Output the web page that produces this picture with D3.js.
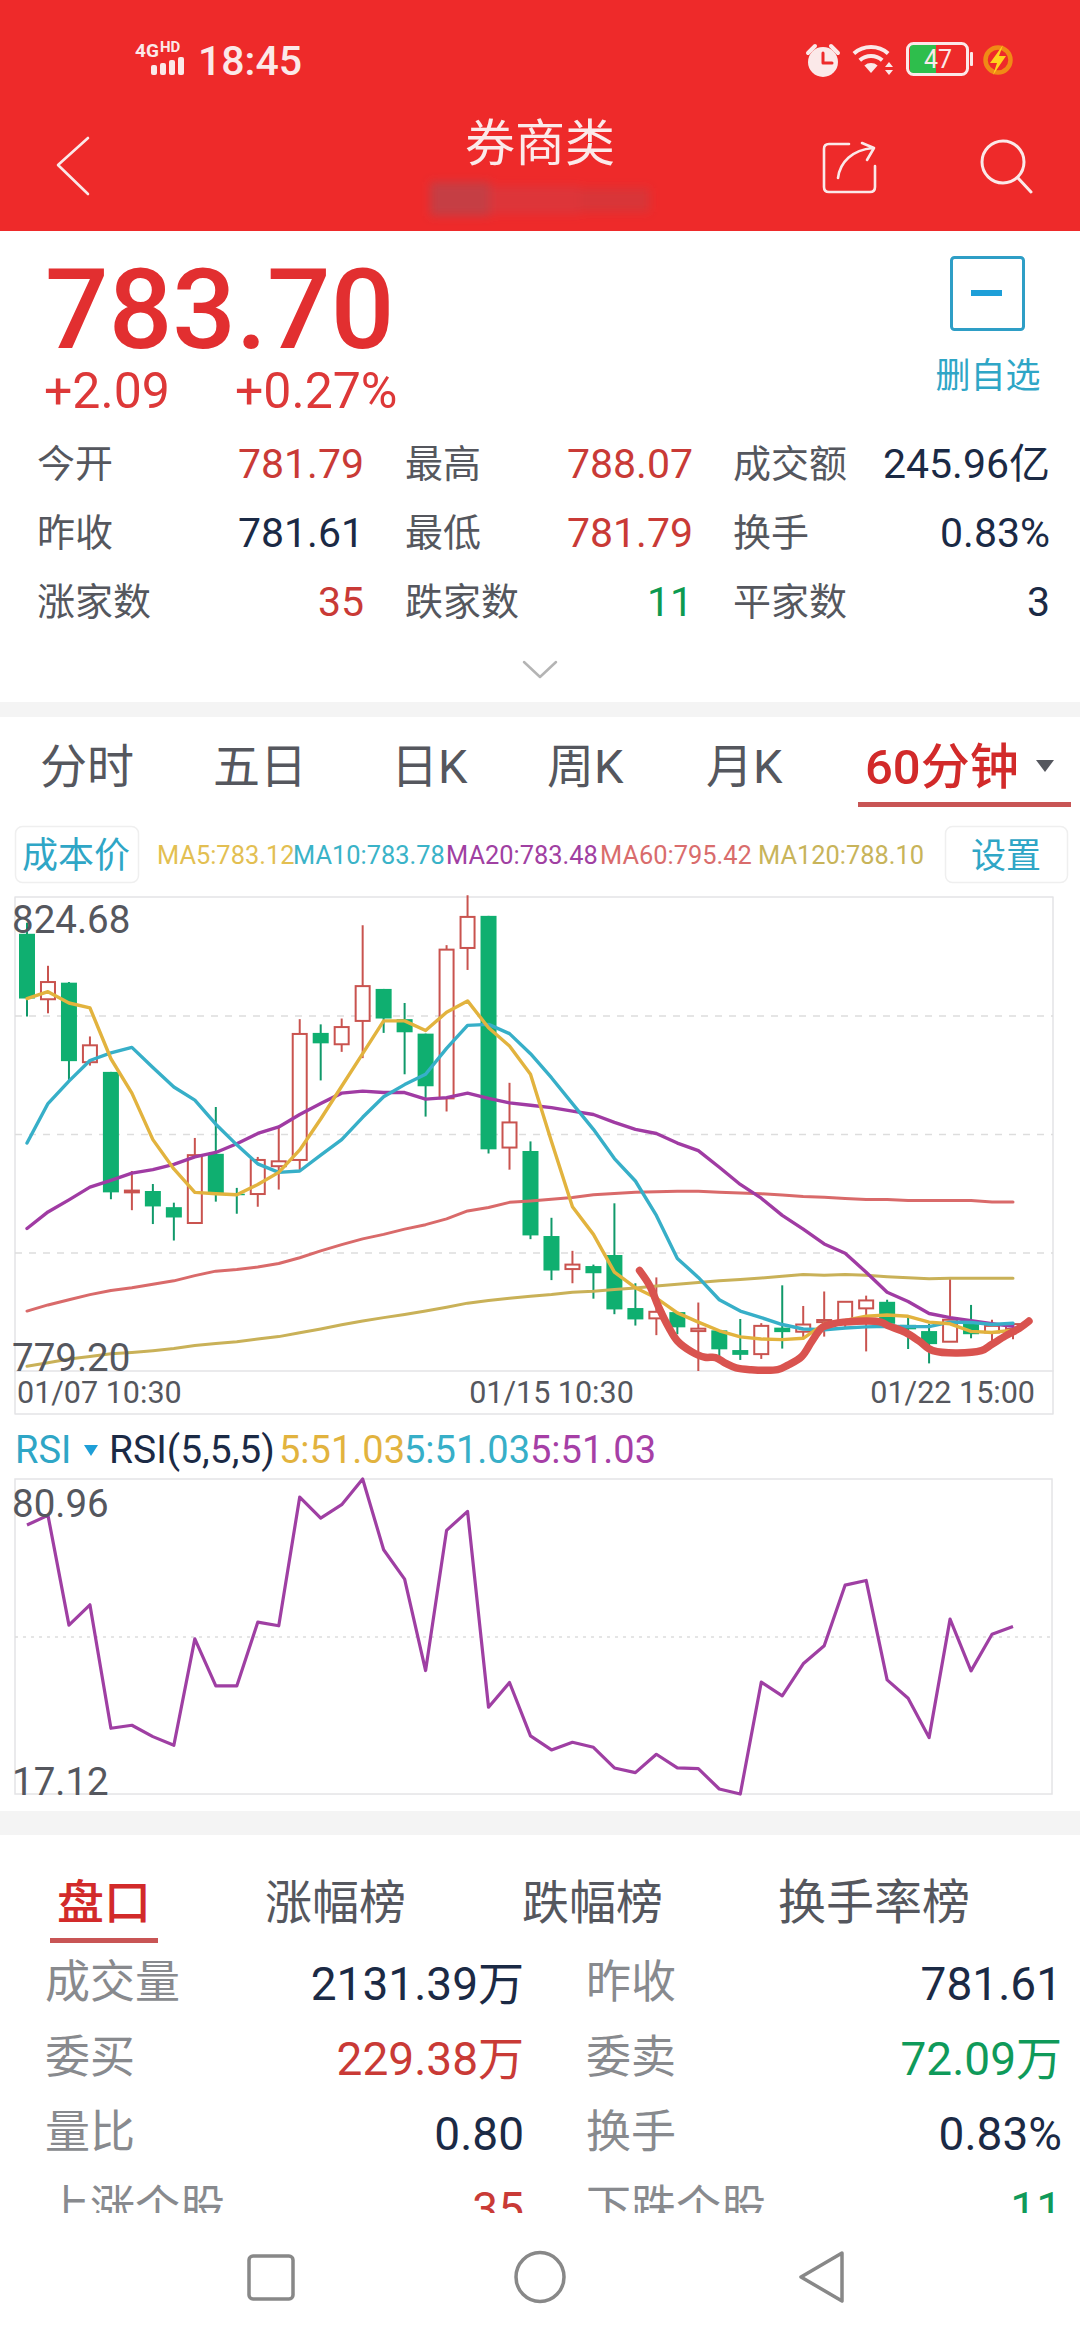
<!DOCTYPE html>
<html><head><meta charset="utf-8">
<script src="https://d3js.org/d3.v7.min.js"></script>
<style>html,body{margin:0;padding:0;background:#fff}svg{display:block}</style>
</head><body><div id="c"></div>
<script>
const priceMin = 779.20, priceMax = 824.68;
const rsiMin = 17.12, rsiMax = 80.96;
const priceGrid = [790.57, 801.94, 813.31];
const rsiGrid = [49.04];
const dateTicks = ["01/07 10:30", "01/15 10:30", "01/22 15:00"];

const opens = [821.15,814.87,816.46,808.83,807.90,796.34,796.47,794.92,793.40,800.04,796.21,796.18,798.85,799.45,811.64,810.55,812.79,815.86,812.96,811.57,805.36,819.79,822.87,800.64,800.31,792.15,788.98,789.27,790.33,785.24,784.25,784.85,783.03,783.10,781.21,780.82,783.36,782.97,783.89,784.06,785.21,785.84,783.63,783.03,782.01,783.89,782.90,783.23];
const closes = [814.94,816.52,808.93,810.45,796.34,796.51,794.99,793.93,799.91,796.21,796.08,799.45,799.32,811.54,810.64,812.20,816.13,813.02,811.70,806.52,819.63,822.77,800.47,803.05,792.21,788.84,789.41,788.58,785.11,784.15,784.88,783.39,783.26,781.28,780.75,783.53,782.93,783.66,784.09,785.84,785.97,783.73,783.20,781.78,784.12,782.73,783.53,783.70];
const highs = [822.20,818.08,816.52,811.30,807.90,798.39,797.14,795.35,801.56,804.53,796.77,799.74,802.55,812.96,812.46,813.02,821.97,815.86,814.51,811.57,820.06,824.85,822.87,806.85,801.23,793.90,790.73,789.41,795.29,787.62,788.18,784.85,785.77,783.10,784.19,783.79,787.42,785.44,786.83,785.84,786.43,786.04,784.39,783.73,788.18,785.54,784.12,783.89];
const lows = [813.22,813.52,807.01,808.50,795.68,794.63,793.30,791.72,793.40,795.45,794.29,794.96,796.61,798.42,807.08,809.82,809.22,811.64,807.67,803.61,804.10,817.68,800.07,798.52,791.85,787.92,787.62,786.14,784.65,783.56,782.64,782.73,779.20,780.59,780.26,780.36,781.35,782.24,782.50,783.39,781.08,783.56,781.31,779.93,782.01,782.34,782.07,782.24];

const ma5 = [814.94,815.60,814.51,814.05,809.16,805.86,801.40,798.59,796.34,796.21,796.11,797.10,798.26,800.41,803.38,806.52,809.65,812.79,812.79,811.87,813.62,814.71,812.13,810.38,807.67,801.23,794.96,792.31,788.68,787.19,786.20,784.78,783.89,783.06,782.47,782.27,782.21,782.34,783.73,784.06,784.45,784.58,784.45,783.89,783.73,783.00,782.90,783.12];
const ma10 = [801.07,804.86,807.01,808.99,809.72,810.25,808.33,806.45,805.19,802.88,800.90,799.08,798.26,798.39,799.91,801.40,803.54,805.52,806.68,807.67,810.15,812.36,812.46,811.57,809.65,807.34,804.86,802.39,799.58,797.43,794.13,790.00,788.18,786.04,784.95,784.32,783.66,783.23,783.16,783.33,783.43,783.49,783.46,783.46,783.89,783.86,783.66,783.78];
const ma20 = [792.87,794.46,795.62,796.84,797.50,798.19,798.52,799.02,799.74,800.17,801.00,801.99,802.62,803.81,804.86,805.86,806.05,805.92,805.92,805.29,805.43,805.86,805.36,804.93,804.70,804.47,804.14,803.81,803.05,802.39,801.99,801.07,800.34,798.75,797.10,795.78,794.13,792.81,791.39,790.50,788.68,786.76,785.87,784.72,784.32,784.02,783.73,783.48];
const ma60 = [784.95,785.54,786.04,786.53,786.93,787.19,787.52,787.85,788.35,788.78,788.94,789.18,789.51,790.07,790.73,791.32,791.88,792.31,792.81,793.24,793.80,794.56,794.89,795.38,795.52,795.68,795.85,796.11,796.24,796.34,796.41,796.44,796.44,796.34,796.28,796.21,796.08,795.95,795.88,795.75,795.65,795.65,795.55,795.55,795.55,795.55,795.42,795.42];
const ma120 = [779.66,779.99,780.36,780.59,780.85,780.98,781.15,781.35,781.64,781.84,782.01,782.27,782.50,782.87,783.23,783.63,783.99,784.32,784.62,784.95,785.31,785.71,785.97,786.17,786.37,786.53,786.76,786.86,787.03,787.16,787.36,787.52,787.69,787.85,787.99,788.12,788.28,788.45,788.38,788.45,788.38,788.25,788.15,788.05,788.10,788.10,788.10,788.10];
const rsiValues = [71.63,73.59,51.34,55.47,30.44,31.05,28.75,26.99,48.57,39.03,39.03,51.95,51.21,77.31,73.05,75.76,80.96,66.63,60.67,42.14,70.55,74.40,34.70,39.71,28.89,26.05,27.60,26.59,22.40,21.45,25.17,22.40,22.26,18.13,17.12,39.78,37.00,43.50,47.15,59.46,60.40,40.25,36.53,28.55,52.56,42.08,49.51,51.07];

const markIndex = [29.2,29.69,30.10,30.59,31.01,31.66,32.32,32.82,33.31,33.80,34.46,35.78,36.27,36.93,37.42,37.92,38.41,38.91,40.71,41.04,41.87,42.53,43.18,45.49,45.98,46.64,47.30,47.76];
const markPrice = [788.84,787.36,785.38,783.39,782.07,781.08,780.52,780.49,779.93,779.50,779.33,779.33,779.76,780.59,782.07,783.39,783.73,783.89,783.89,783.56,782.90,782.07,781.15,781.15,781.74,782.57,783.30,783.99];

const maLabels = ["MA5:783.12","MA10:783.78","MA20:783.48","MA60:795.42","MA120:788.10"];
const periodTabs = ["分时","五日","日K","周K","月K"];
const infoLabels = [["今开","最高","成交额"],["昨收","最低","换手"],["涨家数","跌家数","平家数"]];
const infoValues = [["781.79","788.07","245.96亿"],["781.61","781.79","0.83%"],["35","11","3"]];
const listTabs = ["涨幅榜","跌幅榜","换手率榜"];
const tableLabels = [["成交量","昨收"],["委买","委卖"],["量比","换手"],["上涨个股","下跌个股"]];
const tableValues = [["2131.39万","781.61"],["229.38万","72.09万"],["0.80","0.83%"],["35","11"]];

const RED="#E52E2E", UP="#C9534F", DOWN="#0FAF70", DOWNW="#10996A", DARK="#1B2A45", GREY="#55575E", LG="#888A8E", BLUE="#2FA6C6";
const cMA=["#E2B33E","#37AFC8","#A03BA3","#D96A6A","#C9B158"];
const FONT='Roboto,"Noto Sans CJK SC",sans-serif';

const svg=d3.select("#c").append("svg").attr("width",1080).attr("height",2340).attr("viewBox","0 0 1080 2340").style("font-family",FONT);
const defs=svg.append("defs");
defs.append("filter").attr("id","bl").attr("x","-20%").attr("y","-50%").attr("width","140%").attr("height","200%").append("feGaussianBlur").attr("stdDeviation",5);
defs.append("clipPath").attr("id","rowClip").append("rect").attr("x",0).attr("y",2100).attr("width",1080).attr("height",113);

function T(p,x,y,s,o={}){return p.append("text").attr("x",x).attr("y",y).text(s).attr("font-size",o.size||36).attr("fill",o.fill||GREY).attr("text-anchor",o.anchor||"start").attr("font-weight",o.weight||400);}
function R(p,x,y,w,h,f,o={}){return p.append("rect").attr("x",x).attr("y",y).attr("width",w).attr("height",h).attr("fill",f).attr("rx",o.rx||0).attr("stroke",o.stroke||"none").attr("stroke-width",o.sw||0);}
function P(p,d,s,w,f){return p.append("path").attr("d",d).attr("fill",f||"none").attr("stroke",s||"none").attr("stroke-width",w||0).attr("stroke-linecap","round").attr("stroke-linejoin","round");}

/* header */
R(svg,0,0,1080,231,"#EE2A2A");
const hw="#FBE9E9";
T(svg,135,57,"4G",{size:19,fill:hw,weight:700});
T(svg,160,52,"HD",{size:15,fill:hw,weight:700});
[[151,10],[160,12],[169,15],[178,18]].forEach(b=>R(svg,b[0],75-b[1],6,b[1],hw,{rx:2}));
T(svg,198,75,"18:45",{size:41,fill:hw,weight:500});
// alarm
svg.append("circle").attr("cx",823).attr("cy",62).attr("r",15).attr("fill",hw);
P(svg,"M823 53V63H832","#EE2A2A",3);
P(svg,"M808 53L815 46M838 53L831 46",hw,4);
// wifi
const wifiArc=d3.arc().startAngle(-0.72).endAngle(0.72);
[[24,28],[15,19],[0,10]].forEach(r=>svg.append("path").attr("transform","translate(871,73)").attr("fill",hw).attr("d",wifiArc({innerRadius:r[0],outerRadius:r[1]})));
P(svg,"M889 62L893 67H885ZM889 75L893 70H885Z",null,0,hw);
// battery
R(svg,910,45,26,28,"#2EBE4C");
R(svg,907.5,43.5,60,31,"none",{rx:6,stroke:hw,sw:3});
R(svg,970,52,3,14,hw,{rx:1});
T(svg,938,68,"47",{size:25,fill:hw,anchor:"middle"});
// bolt
svg.append("circle").attr("cx",998).attr("cy",60).attr("r",12.5).attr("fill","none").attr("stroke","#F08A16").attr("stroke-width",4.5);
P(svg,"M1003 45L990 63H997L993 75L1006 56H999Z",null,0,"#FFD21E");

T(svg,540,161,"券商类",{size:50,fill:"#FBEAEA",anchor:"middle"});
const blur=svg.append("g").attr("filter","url(#bl)");
R(blur,430,182,60,34,"rgba(120,100,120,.34)");
R(blur,490,186,90,28,"rgba(160,95,110,.22)");
R(blur,580,188,70,24,"rgba(130,100,110,.20)");
P(svg,"M88 138L58 165L88 194",hw,2.6);
P(svg,"M849 144H829Q824 144 824 149V187Q824 192 829 192H870Q875 192 875 187V166",hw,2.6);
P(svg,"M838 178C840 162 852 150 873 148M862 143L874 148L867 160",hw,2.6);
svg.append("circle").attr("cx",1003).attr("cy",162).attr("r",21).attr("fill","none").attr("stroke",hw).attr("stroke-width",3);
P(svg,"M1018 178L1031 192",hw,3);

/* quote */
T(svg,45,348,"783.70",{size:112,fill:"#E22F30",weight:500});
T(svg,44,408,"+2.09",{size:50,fill:"#DD3838"});
T(svg,235,408,"+0.27%",{size:50,fill:"#DD3838"});
R(svg,951.5,257.5,72,72,"#fff",{rx:3,stroke:"#2E9EC6",sw:3});
R(svg,971,290,31,6,"#1E9FD8");
T(svg,988,388,"删自选",{size:35,fill:BLUE,anchor:"middle"});

const rowBase=[478,547,616];
const labX=[37,405,733], valX=[364,693,1050];
const valFill=[["#C93A36","#C93A36",DARK],[DARK,"#C93A36",DARK],["#C93A36","#0C9A50",DARK]];
infoLabels.forEach((row,i)=>row.forEach((s,j)=>{
  T(svg,labX[j],rowBase[i]-1,s,{size:38,fill:GREY});
  T(svg,valX[j],rowBase[i],infoValues[i][j],{size:41,fill:valFill[i][j],anchor:"end"});
}));
P(svg,"M524 662L540 677L556 662","#B4B4B4",2.5);
R(svg,0,702,1080,15,"#F4F4F4");

/* period tabs */
const tabX=[40,213,391,547,706];
periodTabs.forEach((s,i)=>T(svg,tabX[i],783,s,{size:47,fill:GREY}));
T(svg,865,784,"60分钟",{size:49,fill:"#D22A2A",weight:500});
P(svg,"M1036 760H1054L1045 772Z",null,0,GREY);
R(svg,858,802,213,5,"#C85555");

/* MA legend row */
R(svg,15.5,826.5,123,56,"#fff",{rx:7,stroke:"#EFEFEF",sw:1.5});
T(svg,22,868,"成本价",{size:36,fill:BLUE});
R(svg,945.5,826.5,122,56,"#fff",{rx:7,stroke:"#EFEFEF",sw:1.5});
T(svg,971,868,"设置",{size:35,fill:BLUE});
const maX=[157,293,446,600,758];
const legendCol=["#E3BF52","#3AB3C8","#A040A2","#D96C6C","#C8B45A"];
maLabels.forEach((s,i)=>T(svg,maX[i],864,s,{size:25.4,fill:legendCol[i]}));

/* candle chart */
const L=15,Rt=1053,Top=897,Bot=1371;
const x=d3.scaleLinear().domain([0,47]).range([27,1013]);
const y=d3.scaleLinear().domain([priceMin,priceMax]).range([Bot,Top]);
const frame="#E4E4E6";
P(svg,`M${L} ${Bot}V${Top}H${Rt}V${Bot}`,frame,1.5);
P(svg,`M${L} ${Bot}V1414H${Rt}V${Bot}Z`,frame,1.5);
const gridAxis=d3.axisLeft(y).tickValues(priceGrid).tickSize(-(Rt-L)).tickFormat("");
const gg=svg.append("g").attr("transform",`translate(${L},0)`).call(gridAxis);
gg.select(".domain").remove();
gg.selectAll("line").attr("stroke","#DDDDDD").attr("stroke-width",1.5).attr("stroke-dasharray","7 7");

const idx=d3.range(opens.length);
const bw=15;
const cg=svg.append("g");
cg.selectAll("line.w").data(idx).join("line").attr("class","w")
 .attr("x1",i=>x(i)).attr("x2",i=>x(i)).attr("y1",i=>y(highs[i])).attr("y2",i=>y(lows[i]))
 .attr("stroke",i=>closes[i]>=opens[i]?UP:DOWNW).attr("stroke-width",2);
cg.selectAll("rect.b").data(idx).join("rect").attr("class","b")
 .attr("x",i=>closes[i]>=opens[i]?x(i)-bw/2+.5:x(i)-bw/2-.5)
 .attr("width",i=>closes[i]>=opens[i]?bw-1:bw+1)
 .attr("y",i=>y(Math.max(opens[i],closes[i])))
 .attr("height",i=>Math.max(1.5,Math.abs(y(opens[i])-y(closes[i]))))
 .attr("fill",i=>closes[i]>=opens[i]?"#fff":DOWN)
 .attr("stroke",i=>closes[i]>=opens[i]?UP:"none")
 .attr("stroke-width",2);

const line=d3.line().x((d,i)=>x(i)).y(d=>y(d));
[ma120,ma60,ma20,ma10,ma5].forEach((s,k)=>{
  svg.append("path").attr("d",line(s)).attr("fill","none").attr("stroke",cMA[4-k]).attr("stroke-width",k<2?3:3.4).attr("stroke-linejoin","round").attr("stroke-linecap","round");
});
const markLine=d3.line().x((d,i)=>x(markIndex[i])).y(d=>y(d)).curve(d3.curveCatmullRom);
svg.append("path").attr("d",markLine(markPrice)).attr("fill","none").attr("stroke","#D9534F").attr("stroke-width",7.5).attr("stroke-linecap","round").attr("stroke-linejoin","round");

T(svg,12,933,d3.format(".2f")(priceMax),{size:38.5,fill:GREY});
T(svg,12,1371,d3.format(".2f")(priceMin),{size:38.5,fill:GREY});
T(svg,17,1403,dateTicks[0],{size:30.5,fill:GREY});
T(svg,x(25),1403,dateTicks[1],{size:30.5,fill:GREY,anchor:"middle"});
T(svg,1035,1403,dateTicks[2],{size:30.5,fill:GREY,anchor:"end"});

/* RSI */
T(svg,15,1463,"RSI",{size:38,fill:BLUE});
P(svg,"M84 1445H98L91 1456Z",null,0,"#1E9FD8");
T(svg,109,1463,"RSI(5,5,5)",{size:39,fill:DARK});
const rsiLabelX=[279,404,530];
[cMA[0],cMA[1],"#A63FA6"].forEach((c,i)=>T(svg,rsiLabelX[i],1463,"5:51.03",{size:38,fill:c}));
const rTop=1479,rBot=1794;
R(svg,15,rTop,1037,rBot-rTop,"none",{stroke:frame,sw:1.5});
const ry=d3.scaleLinear().domain([rsiMin,rsiMax]).range([rBot,rTop]);
const rg=svg.append("g").attr("transform","translate(15,0)").call(d3.axisLeft(ry).tickValues(rsiGrid).tickSize(-1037).tickFormat(""));
rg.select(".domain").remove();
rg.selectAll("line").attr("stroke","#DDDDDD").attr("stroke-width",1.5).attr("stroke-dasharray","3 5");
svg.append("path").attr("d",d3.line().x((d,i)=>x(i)).y(d=>ry(d))(rsiValues)).attr("fill","none").attr("stroke","#9F3FA3").attr("stroke-width",3.2).attr("stroke-linejoin","round");
T(svg,12,1517,d3.format(".2f")(rsiMax),{size:38.5,fill:GREY});
T(svg,12,1795,d3.format(".2f")(rsiMin),{size:38.5,fill:GREY});
R(svg,0,1811,1080,24,"#F4F4F4");

/* bottom table */
T(svg,57,1919,"盘口",{size:47,fill:"#D22A2A",weight:500});
R(svg,50,1938,108,5,"#C85555");
const ltX=[265,522,778];
[47,47,48].forEach((fs,i)=>T(svg,ltX[i],1919,listTabs[i],{size:fs,fill:GREY}));
const tBase=[2000,2075,2150,2225];
const tFill=[[DARK,DARK],["#C93A36","#0F9A5A"],[DARK,DARK],["#C93A36","#0F9A5A"]];
const tg=svg.append("g").attr("clip-path","url(#rowClip)");
const tg0=svg.append("g");
tableLabels.forEach((row,i)=>row.forEach((s,j)=>{
  const p=i==3?tg:tg0;
  T(p,[45,586][j],tBase[i]-2,s,{size:45,fill:LG});
  T(p,[524,1062][j],tBase[i],tableValues[i][j],{size:46,fill:tFill[i][j],anchor:"end"});
}));
R(svg,249,2256,44,43,"none",{rx:4,stroke:"#888",sw:3.5});
svg.append("ellipse").attr("cx",540).attr("cy",2277).attr("rx",24).attr("ry",24.5).attr("fill","none").attr("stroke","#888").attr("stroke-width",3.5);
P(svg,"M842 2253L801 2277L842 2301Z","#888",3.5);
</script></body></html>
